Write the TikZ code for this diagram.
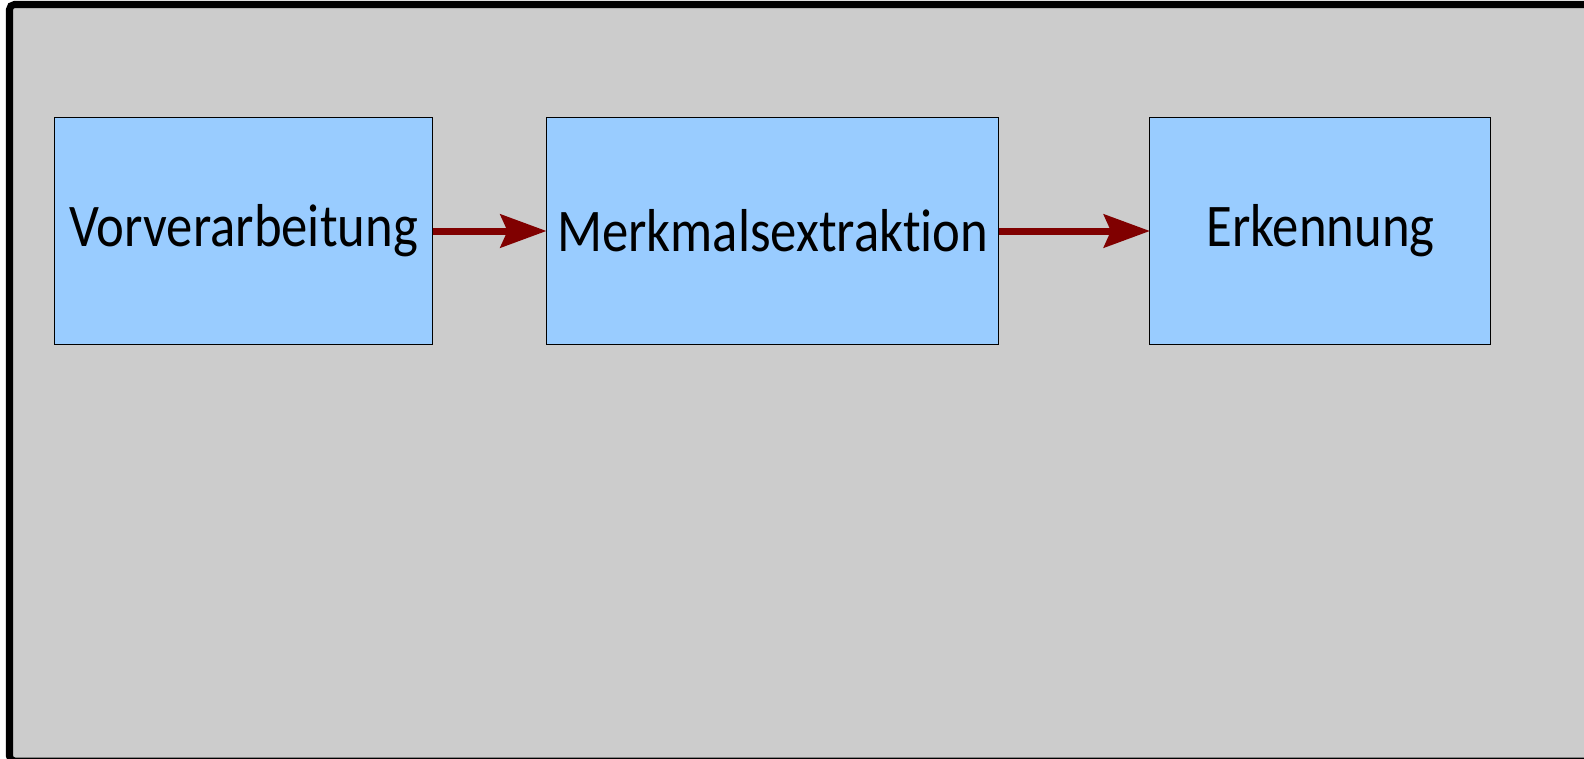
\documentclass[tikz,border=0pt]{standalone}
\usepackage{fontspec}
\setmainfont{Carlito}[FakeStretch=0.87,Ligatures=NoCommon]
\usepackage{xcolor}
\usepackage{tikz}
\usetikzlibrary{positioning,arrows.meta}
\definecolor{boxcol}{HTML}{99CCFF}
\definecolor{bgcol}{HTML}{CCCCCC}
\definecolor{arrcol}{HTML}{800000}

\begin{document}
\begin{tikzpicture}[
   x=0.5bp,y=-0.5bp,
   font=\fontsize{30.4}{36}\selectfont,
   box/.style={draw=black,line width=0.5bp,fill=boxcol,minimum height=113.2bp,
               minimum width=#1,inner sep=0pt,outer sep=0pt,align=center},
   flow/.style={-{Stealth[length=23bp,width=16.5bp,inset=3.5bp]},arrcol,line width=3.5bp},
]
\useasboundingbox (0,0) rectangle (1584,759);
\clip (0,0) rectangle (1584,759);

% frame
\draw[fill=bgcol,line width=3.5bp,rounded corners=2.5bp] (9.5,4.5) rectangle (1620,761);

% stages
\node[box=189bp] (vor) at (243.5,231) {Vorverarbeitung};
\node[box=226.2bp, right=57bp of vor] (merk) {Merkmalsextraktion};
\node[box=170.5bp, right=75.5bp of merk] (erk) {Erkennung};

% arrows
\draw[flow] (vor) -- (merk);
\draw[flow] (merk) -- (erk);
\end{tikzpicture}
\end{document}
